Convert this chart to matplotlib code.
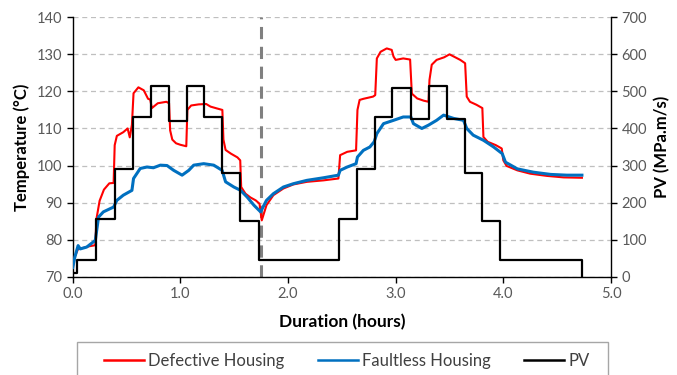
import matplotlib
matplotlib.use("Agg")
import matplotlib.pyplot as plt
from matplotlib.lines import Line2D
from matplotlib.patches import Rectangle

plt.rcParams["font.family"] = ["Lato", "DejaVu Sans"]

# Housing temperatures (deg C) against test duration (hours)
defective_t = [0.0, 0.02, 0.05, 0.10, 0.15, 0.21, 0.22, 0.25, 0.29, 0.34, 0.38, 0.39, 0.41,
               0.47, 0.51, 0.53, 0.55, 0.565, 0.61, 0.66, 0.70, 0.72, 0.735, 0.79, 0.87,
               0.895, 0.905, 0.925, 0.96, 1.00, 1.055, 1.065, 1.10, 1.17, 1.24, 1.28, 1.34,
               1.39, 1.40, 1.42, 1.47, 1.53, 1.556, 1.565, 1.605, 1.65, 1.70, 1.735, 1.756,
               1.80, 1.864, 1.957, 2.05, 2.175, 2.33, 2.468, 2.484, 2.55, 2.632, 2.645,
               2.665, 2.70, 2.79, 2.81, 2.825, 2.86, 2.917, 2.963, 2.98, 3.00, 3.07, 3.134,
               3.15, 3.20, 3.26, 3.305, 3.314, 3.335, 3.38, 3.45, 3.50, 3.60, 3.645, 3.66,
               3.69, 3.75, 3.805, 3.815, 3.855, 3.93, 3.985, 4.00, 4.03, 4.13, 4.25, 4.405,
               4.56, 4.73]
defective_T = [72.5, 75.5, 77.5, 77.8, 78.2, 78.5, 85.5, 90.5, 93.5, 95.2, 95.3, 105.5, 108.0,
               109.0, 110.0, 107.6, 111.0, 119.5, 121.1, 120.3, 118.0, 117.8, 115.5, 116.8,
               117.2, 116.8, 109.5, 107.0, 106.0, 105.6, 105.2, 115.0, 116.2, 116.5, 116.6,
               115.9, 115.4, 115.0, 107.0, 104.2, 103.2, 102.2, 101.4, 94.2, 92.4, 91.4,
               90.6, 89.7, 85.2, 89.3, 92.0, 93.8, 94.9, 95.6, 96.0, 96.5, 102.8, 103.7,
               104.1, 115.0, 117.7, 118.0, 118.6, 119.0, 128.9, 130.7, 131.6, 131.2, 129.4,
               128.5, 128.9, 128.6, 119.4, 118.1, 117.5, 117.2, 123.1, 127.2, 128.5, 129.2,
               130.0, 128.5, 127.6, 118.6, 117.2, 116.4, 115.5, 107.7, 106.4, 105.5, 104.6,
               101.4, 99.9, 98.7, 97.8, 97.2, 96.8, 96.7]

faultless_t = [0.0, 0.02, 0.05, 0.07, 0.13, 0.21, 0.24, 0.285, 0.38, 0.41, 0.47, 0.55, 0.565,
               0.627, 0.69, 0.75, 0.814, 0.876, 0.938, 1.016, 1.078, 1.124, 1.217, 1.31,
               1.388, 1.42, 1.497, 1.559, 1.62, 1.683, 1.745, 1.80, 1.864, 1.957, 2.05,
               2.175, 2.33, 2.468, 2.484, 2.55, 2.632, 2.645, 2.70, 2.76, 2.80, 2.825,
               2.887, 2.98, 3.07, 3.141, 3.165, 3.243, 3.305, 3.38, 3.445, 3.54, 3.63, 3.66,
               3.72, 3.816, 3.91, 3.99, 4.02, 4.13, 4.28, 4.44, 4.59, 4.73]
faultless_T = [72.5, 75.3, 78.4, 77.5, 78.0, 79.8, 86.1, 87.5, 88.8, 90.6, 92.0, 93.3, 96.5,
               99.2, 99.6, 99.4, 100.1, 100.0, 98.7, 97.4, 98.7, 100.1, 100.5, 100.1, 98.7,
               95.6, 94.2, 93.3, 91.5, 89.3, 87.5, 90.6, 92.4, 94.2, 95.1, 96.0, 96.7, 97.4,
               98.7, 99.6, 100.5, 102.3, 104.1, 105.0, 106.4, 108.6, 111.3, 112.2, 113.1,
               113.1, 111.3, 110.0, 110.9, 112.2, 113.6, 112.7, 112.2, 110.0, 108.2, 106.8,
               105.0, 103.2, 100.9, 99.1, 98.2, 97.6, 97.4, 97.4]

# PV schedule (MPa.m/s), each level held from its start time
pv_t = [0.0, 0.04, 0.22, 0.39, 0.56, 0.725, 0.895, 1.06, 1.22, 1.39, 1.555, 1.73,
        2.47, 2.64, 2.81, 2.97, 3.14, 3.31, 3.475, 3.64, 3.80, 3.97, 4.73]
pv_value = [10, 45, 155, 290, 430, 515, 420, 515, 430, 280, 150, 45,
            155, 290, 430, 510, 425, 515, 425, 280, 150, 45, 0]

restart_time = 1.75

TICK_COLOR = "#595959"
RED = "#FF0000"
BLUE = "#0070C0"

fig = plt.figure(figsize=(6.77, 3.75), dpi=100)
ax = fig.add_axes([0.1074, 0.2621, 0.7951, 0.6918])
ax2 = ax.twinx()

ax.plot(defective_t, defective_T, color=RED, lw=1.5, zorder=3)
ax.plot(faultless_t, faultless_T, color=BLUE, lw=2.2, zorder=4)
ax.axvline(restart_time, color="#808080", lw=2.2, ls=(0, (4, 2.5)), zorder=2)
ax2.step(pv_t, pv_value, where="post", color="black", lw=1.6, zorder=5)

ax.set_xlim(0, 5)
ax.set_ylim(70, 140)
ax2.set_ylim(0, 700)
ax.set_xticks([0, 1, 2, 3, 4, 5])
ax.set_xticklabels([f"{v:.1f}" for v in range(6)])
ax.set_yticks(range(70, 141, 10))
ax2.set_yticks(range(0, 701, 100))

ax.yaxis.grid(True, color="#BFBFBF", ls=(0, (4, 3)), lw=0.9)
ax.set_axisbelow(True)

for a in (ax, ax2):
    a.spines["top"].set_visible(False)
    for s in ("left", "right", "bottom"):
        a.spines[s].set_color("black")
        a.spines[s].set_linewidth(1.0)
    a.tick_params(direction="out", length=4, width=1.0, colors="black",
                  labelcolor=TICK_COLOR, labelsize=10.5)
ax.spines["right"].set_visible(False)
ax2.spines["left"].set_visible(False)
ax2.spines["bottom"].set_visible(False)

ax.set_xlabel("Duration (hours)", fontsize=12.5, fontweight="bold", labelpad=9)
ax.set_ylabel("Temperature (°C)", fontsize=12, fontweight="bold", labelpad=5)
ax2.set_ylabel("PV (MPa.m/s)", fontsize=12, fontweight="bold", labelpad=5)

# legend box runs off the bottom edge of the figure
fig.add_artist(Rectangle((0.1142, -0.05), 0.7835, 0.1388, transform=fig.transFigure,
                         facecolor="white", edgecolor="#A6A6A6", lw=1.0))
handles = [Line2D([], [], color=RED, lw=1.8, label="Defective Housing"),
           Line2D([], [], color=BLUE, lw=1.8, label="Faultless Housing"),
           Line2D([], [], color="black", lw=1.8, label="PV")]
leg = fig.legend(handles=handles, loc="center", ncol=3, bbox_to_anchor=(0.5126, 0.037),
                 fontsize=12, frameon=False, handlelength=2.4, handletextpad=0.25,
                 columnspacing=2.0)
for txt in leg.get_texts():
    txt.set_color("#404040")

fig.savefig("out.png", dpi=100)
